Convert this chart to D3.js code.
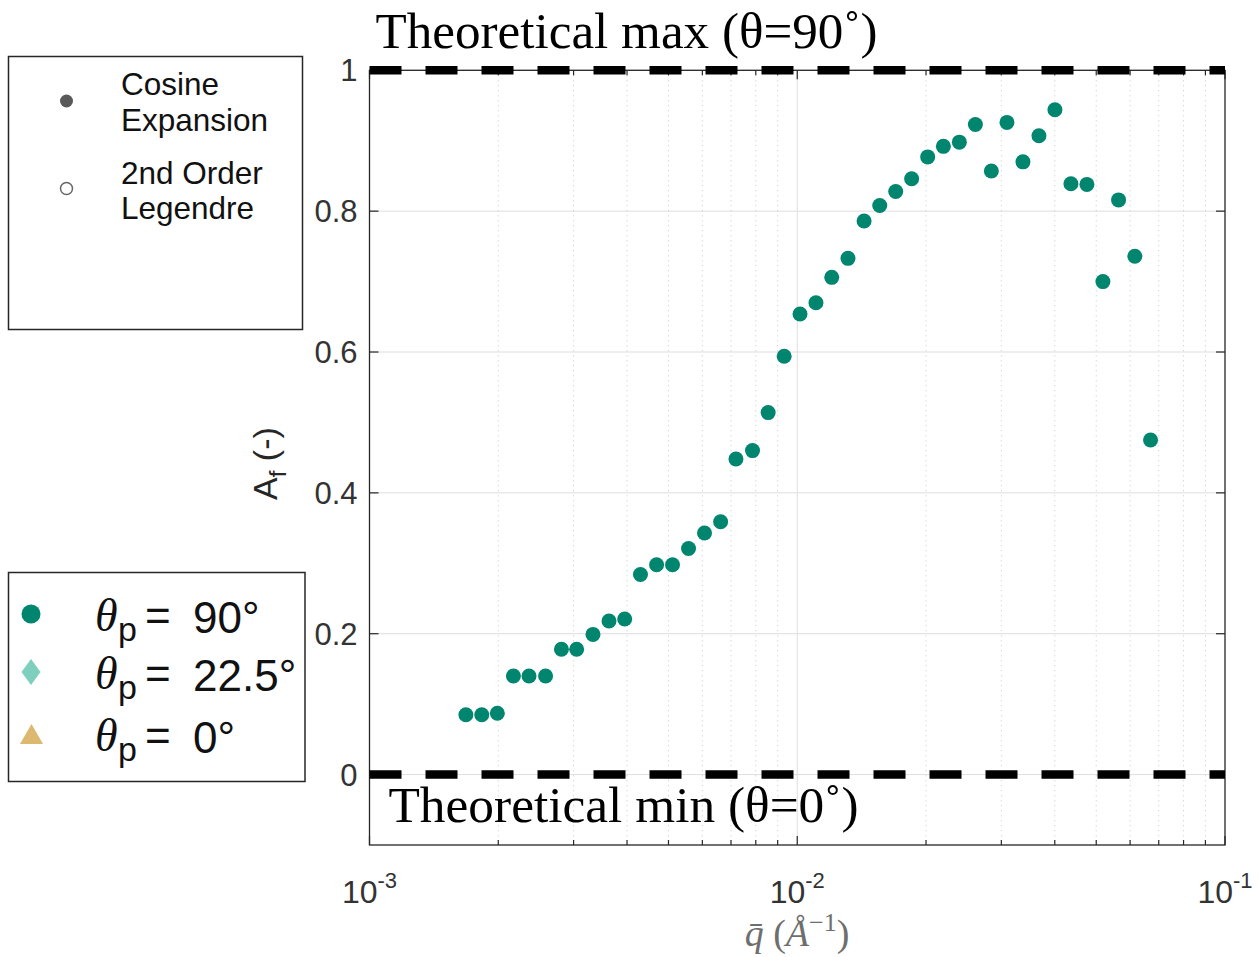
<!DOCTYPE html>
<html>
<head>
<meta charset="utf-8">
<script src="https://cdn.jsdelivr.net/npm/d3@7"></script>
<style>
  html, body { margin: 0; padding: 0; background: #fff; }
  svg { display: block; }
</style>
</head>
<body>
<svg id="chart" width="1259" height="957"></svg>
<script>
// q-bar values (1/Angstrom)
const qValues = [
  0.00168, 0.00183, 0.00199, 0.00217, 0.00236, 0.00258, 0.00281, 0.00305,
  0.00333, 0.00363, 0.00395, 0.00430, 0.00469, 0.00511, 0.00557, 0.00607,
  0.00662, 0.00719, 0.00786, 0.00855, 0.00932, 0.01015, 0.01106, 0.01204,
  0.01314, 0.01433, 0.01559, 0.01699, 0.01851, 0.02018, 0.02196, 0.02393,
  0.02609, 0.02843, 0.03092, 0.03370, 0.03673, 0.04003, 0.04363, 0.04755,
  0.05183, 0.05639, 0.06155, 0.06698
];
// A_f for theta_p = 90 deg
const afValues = [
  0.085, 0.085, 0.087, 0.140, 0.140, 0.140, 0.178, 0.178,
  0.199, 0.218, 0.221, 0.284, 0.298, 0.298, 0.321, 0.343,
  0.359, 0.448, 0.460, 0.514, 0.594, 0.654, 0.670, 0.706,
  0.733, 0.786, 0.808, 0.828, 0.846, 0.877, 0.892, 0.898,
  0.923, 0.857, 0.926, 0.870, 0.907, 0.944, 0.839, 0.838,
  0.700, 0.816, 0.736, 0.475
];
const yTicks = [0, 0.2, 0.4, 0.6, 0.8, 1];
const yTickLabels = ["0", "0.2", "0.4", "0.6", "0.8", "1"];
const xMajor = [1e-3, 1e-2, 1e-1];
const xMajorExp = ["-3", "-2", "-1"];
const xMinor = [2e-3, 3e-3, 4e-3, 5e-3, 6e-3, 7e-3, 8e-3, 9e-3,
                2e-2, 3e-2, 4e-2, 5e-2, 6e-2, 7e-2, 8e-2, 9e-2];
const legendThetas = ["90°", "22.5°", "0°"];
const legendColors = ["#00856f", "#7ecfbd", "#dcb870"];

const svg = d3.select("#chart");
const plotLeft = 369.5, plotRight = 1225, plotTop = 70.3, plotBottom = 845;
const axisColor = "#262626";

const x = d3.scaleLog().domain([1e-3, 1e-1]).range([plotLeft, plotRight]);
const y = d3.scaleLinear().domain([-0.1, 1]).range([plotBottom, plotTop]);

// grid
const grid = svg.append("g");
grid.selectAll(".hgrid").data(yTicks).enter().append("line")
  .attr("x1", plotLeft).attr("x2", plotRight)
  .attr("y1", d => y(d)).attr("y2", d => y(d))
  .attr("stroke", "#dedede").attr("stroke-width", 1);
grid.selectAll(".vminor").data(xMinor).enter().append("line")
  .attr("x1", d => x(d)).attr("x2", d => x(d))
  .attr("y1", plotTop).attr("y2", plotBottom)
  .attr("stroke", "#c8c8c8").attr("stroke-width", 1)
  .attr("stroke-dasharray", "1,4");
grid.selectAll(".vmajor").data([1e-2]).enter().append("line")
  .attr("x1", d => x(d)).attr("x2", d => x(d))
  .attr("y1", plotTop).attr("y2", plotBottom)
  .attr("stroke", "#dedede").attr("stroke-width", 1);

// box
svg.append("rect")
  .attr("x", plotLeft).attr("y", plotTop)
  .attr("width", plotRight - plotLeft).attr("height", plotBottom - plotTop)
  .attr("fill", "none").attr("stroke", axisColor).attr("stroke-width", 1.3);

// ticks (inward, all four sides)
const ticks = svg.append("g").attr("stroke", axisColor).attr("stroke-width", 1.2);
yTicks.forEach(v => {
  ticks.append("line").attr("x1", plotLeft).attr("x2", plotLeft + 9).attr("y1", y(v)).attr("y2", y(v));
  ticks.append("line").attr("x1", plotRight).attr("x2", plotRight - 9).attr("y1", y(v)).attr("y2", y(v));
});
xMajor.forEach(v => {
  ticks.append("line").attr("x1", x(v)).attr("x2", x(v)).attr("y1", plotBottom).attr("y2", plotBottom - 9);
  ticks.append("line").attr("x1", x(v)).attr("x2", x(v)).attr("y1", plotTop).attr("y2", plotTop + 9);
});
xMinor.forEach(v => {
  ticks.append("line").attr("x1", x(v)).attr("x2", x(v)).attr("y1", plotBottom).attr("y2", plotBottom - 5);
  ticks.append("line").attr("x1", x(v)).attr("x2", x(v)).attr("y1", plotTop).attr("y2", plotTop + 5);
});

// dashed theoretical limits
svg.selectAll(".limit").data([1, 0]).enter().append("line")
  .attr("x1", plotLeft).attr("x2", plotRight)
  .attr("y1", d => y(d)).attr("y2", d => y(d))
  .attr("stroke", "#000").attr("stroke-width", 8.5)
  .attr("stroke-dasharray", "32,24");

// y tick labels
svg.selectAll(".ylab").data(yTicks).enter().append("text")
  .attr("x", plotLeft - 12).attr("y", d => y(d) + 11)
  .attr("text-anchor", "end")
  .attr("font-family", "Liberation Sans, Arial, sans-serif")
  .attr("font-size", 31).attr("fill", "#333")
  .text((d, i) => yTickLabels[i]);

// x tick labels 10^n
xMajor.forEach((v, i) => {
  const t = svg.append("text")
    .attr("x", x(v)).attr("y", 903)
    .attr("text-anchor", "middle")
    .attr("font-family", "Liberation Sans, Arial, sans-serif")
    .attr("font-size", 32).attr("fill", "#333");
  t.append("tspan").text("10");
  t.append("tspan").attr("dy", -15).attr("font-size", 22).text(xMajorExp[i]);
});

// axis labels
const yl = svg.append("text")
  .attr("transform", "translate(277,500) rotate(-90)")
  .attr("font-family", "Liberation Sans, Arial, sans-serif")
  .attr("font-size", 34).attr("fill", axisColor);
yl.append("tspan").text("A");
yl.append("tspan").attr("dy", 9).attr("font-size", 24).text("f");
yl.append("tspan").attr("dy", -9).text(" (-)");

const xl = svg.append("text")
  .attr("x", 797).attr("y", 946)
  .attr("text-anchor", "middle")
  .attr("font-family", "Liberation Serif, Times New Roman, serif")
  .attr("font-size", 38).attr("fill", "#6e6e6e");
xl.append("tspan").attr("font-style", "italic").text("q\u0304");
xl.append("tspan").text(" (");
xl.append("tspan").attr("font-style", "italic").text("Å");
xl.append("tspan").attr("dy", -15).attr("font-size", 26).text("−1");
xl.append("tspan").attr("dy", 15).text(")");

// annotations
svg.append("text")
  .attr("x", x(1e-3) + 6).attr("y", y(1) - 22)
  .attr("font-family", "Liberation Serif, Times New Roman, serif")
  .attr("font-size", 50).attr("fill", "#000")
  .attr("textLength", 502).attr("lengthAdjust", "spacingAndGlyphs")
  .text("Theoretical max (θ=90˚)");
svg.append("text")
  .attr("x", x(1e-3) + 19).attr("y", y(0) + 47)
  .attr("font-family", "Liberation Serif, Times New Roman, serif")
  .attr("font-size", 50).attr("fill", "#000")
  .attr("textLength", 470).attr("lengthAdjust", "spacingAndGlyphs")
  .text("Theoretical min (θ=0˚)");

// data points
svg.append("g").selectAll("circle")
  .data(qValues.map((q, i) => ({ q: q, a: afValues[i] })))
  .enter().append("circle")
  .attr("cx", d => x(d.q))
  .attr("cy", d => y(d.a))
  .attr("r", 7.5)
  .attr("fill", legendColors[0]);

// legend 1: method
const lg1 = svg.append("g");
lg1.append("rect").attr("x", 8.5).attr("y", 56.5).attr("width", 294).attr("height", 273)
  .attr("fill", "#fff").attr("stroke", axisColor).attr("stroke-width", 1.5);
lg1.append("circle").attr("cx", 66.5).attr("cy", 101).attr("r", 6.5).attr("fill", "#595959");
lg1.append("circle").attr("cx", 66.5).attr("cy", 188.5).attr("r", 6).attr("fill", "#fff")
  .attr("stroke", "#666").attr("stroke-width", 1.5);
const lg1Lines = [["Cosine", 95], ["Expansion", 130.5], ["2nd Order", 184], ["Legendre", 219]];
lg1Lines.forEach(l => {
  lg1.append("text").attr("x", 121).attr("y", l[1])
    .attr("font-family", "Liberation Sans, Arial, sans-serif")
    .attr("font-size", 31.5).attr("fill", "#111")
    .attr("textLength", l[0].length > 6 ? null : null)
    .text(l[0]);
});

// legend 2: theta_p
const lg2 = svg.append("g");
lg2.append("rect").attr("x", 8.5).attr("y", 572.5).attr("width", 296.5).attr("height", 209)
  .attr("fill", "#fff").attr("stroke", axisColor).attr("stroke-width", 1.5);
const rowY = [614, 672, 734];
lg2.append("circle").attr("cx", 31).attr("cy", rowY[0]).attr("r", 9.5).attr("fill", legendColors[0]);
lg2.append("path").attr("transform", `translate(31,${rowY[1]})`)
  .attr("d", "M0,-13 L9.5,0 L0,13 L-9.5,0 Z").attr("fill", legendColors[1]);
lg2.append("path").attr("transform", `translate(31.5,${rowY[2]})`)
  .attr("d", "M0,-10 L11.5,10 L-11.5,10 Z").attr("fill", legendColors[2]);
legendThetas.forEach((t, i) => {
  const base = rowY[i] + 17;
  lg2.append("text").attr("x", 95).attr("y", base)
    .attr("font-family", "Liberation Serif, Times New Roman, serif")
    .attr("font-style", "italic").attr("font-size", 46).attr("fill", "#111").text("θ");
  lg2.append("text").attr("x", 118).attr("y", base + 10)
    .attr("font-family", "Liberation Sans, Arial, sans-serif")
    .attr("font-size", 34).attr("fill", "#111").text("p");
  lg2.append("text").attr("x", 145).attr("y", base)
    .attr("font-family", "Liberation Sans, Arial, sans-serif")
    .attr("font-size", 44).attr("fill", "#111").text("=");
  lg2.append("text").attr("x", 193).attr("y", base + 2)
    .attr("font-family", "Liberation Sans, Arial, sans-serif")
    .attr("font-size", 44).attr("fill", "#111").text(t);
});
</script>
</body>
</html>
